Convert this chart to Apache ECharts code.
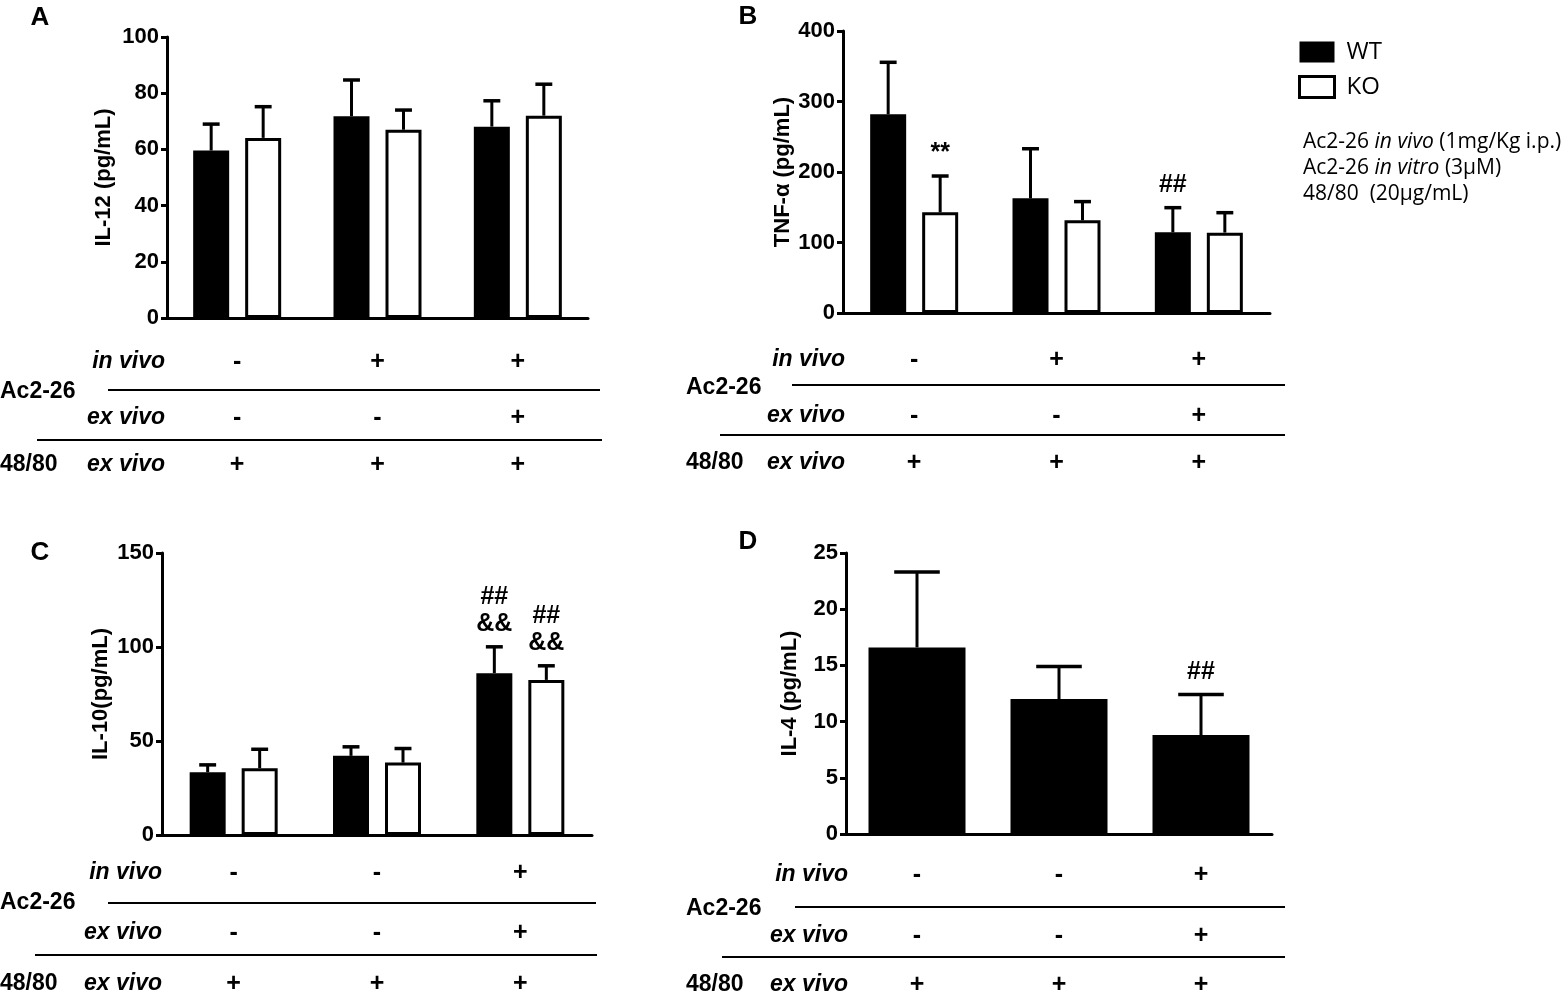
<!DOCTYPE html>
<html>
<head>
<meta charset="utf-8">
<script src="https://cdn.jsdelivr.net/npm/echarts@6/dist/echarts.min.js"></script>
<style>
    html, body { margin: 0; padding: 0; background: #fff; }
    #main { width: 1565px; height: 995px; }
</style>
</head>
<body>
<div id="main"></div>
<script>
// 三组处理
var groups = ['g1', 'g2', 'g3'];

// A: IL-12
var il12WT = [59.6, 71.8, 68.1];
var il12WTErr = [9.4, 12.9, 9.2];
var il12KO = [64.1, 67.0, 72.0];
var il12KOErr = [11.1, 7.0, 11.2];

// B: TNF-α
var tnfWT = [281.8, 162.6, 114.4];
var tnfWTErr = [73.8, 70.4, 35.0];
var tnfKO = [142.8, 131.4, 114.0];
var tnfKOErr = [51.5, 26.6, 28.3];
var tnfWTMark = ['', '', '##'];
var tnfKOMark = ['**', '', ''];

// C: IL-10
var il10WT = [33.4, 42.1, 86.1];
var il10WTErr = [3.9, 4.8, 14.0];
var il10KO = [35.5, 38.5, 82.5];
var il10KOErr = [10.1, 7.5, 7.5];
var il10WTMark = ['', '', '##\n&&'];
var il10KOMark = ['', '', '##\n&&'];

// D: IL-4 (WT only)
var il4WT = [16.6, 12.0, 8.8];
var il4WTErr = [6.7, 2.9, 3.6];
var il4WTMark = ['', '', '##'];

// 表格 +/-
var inVivoAB = ['-', '+', '+'];
var exVivoAB = ['-', '-', '+'];
var inVivoCD = ['-', '-', '+'];
var exVivoCD = ['-', '-', '+'];
var c4880 = ['+', '+', '+'];

var FONT = 'Liberation Sans';

var panels = [{
    letter: 'A', lx: 40, ly: 18,
    grid: { left: 167, top: 37, width: 421, height: 281 },
    yName: 'IL-12 (pg/mL)', nameGap: 52, yMax: 100, yStep: 20,
    bars: [
        { name: 'WT', data: il12WT, err: il12WTErr, mark: null },
        { name: 'KO', data: il12KO, err: il12KOErr, mark: null }
    ],
    inVivo: inVivoAB, exVivo: exVivoAB,
    lay: { labelX: 0, subX: 165, rows: [362, 418, 465], acY: 392, line1: [108, 600, 390], line2: [37, 602, 440] }
}, {
    letter: 'B', lx: 748, ly: 17,
    grid: { left: 843, top: 31, width: 427, height: 282 },
    yName: 'TNF-α (pg/mL)', nameGap: 46, yMax: 400, yStep: 100,
    bars: [
        { name: 'WT', data: tnfWT, err: tnfWTErr, mark: tnfWTMark },
        { name: 'KO', data: tnfKO, err: tnfKOErr, mark: tnfKOMark }
    ],
    inVivo: inVivoAB, exVivo: exVivoAB,
    lay: { labelX: 686, subX: 845, rows: [360, 416, 463], acY: 388, line1: [792, 1285, 385], line2: [720, 1285, 435] }
}, {
    letter: 'C', lx: 40, ly: 553,
    grid: { left: 162, top: 553, width: 430, height: 282 },
    yName: 'IL-10(pg/mL)', nameGap: 50, yMax: 150, yStep: 50,
    bars: [
        { name: 'WT', data: il10WT, err: il10WTErr, mark: il10WTMark },
        { name: 'KO', data: il10KO, err: il10KOErr, mark: il10KOMark }
    ],
    inVivo: inVivoCD, exVivo: exVivoCD,
    lay: { labelX: 0, subX: 162, rows: [873, 933, 984], acY: 903, line1: [108, 596, 903], line2: [35, 597, 955] }
}, {
    letter: 'D', lx: 748, ly: 542,
    grid: { left: 846, top: 553, width: 426, height: 281 },
    yName: 'IL-4 (pg/mL)', nameGap: 45, yMax: 25, yStep: 5,
    bars: [
        { name: 'WT', data: il4WT, err: il4WTErr, mark: il4WTMark }
    ],
    inVivo: inVivoCD, exVivo: exVivoCD,
    lay: { labelX: 686, subX: 848, rows: [875, 936, 985], acY: 909, line1: [795, 1285, 907], line2: [722, 1285, 957] }
}];

// 误差线 + 显著性标记
function errRender(offset, barW, err, mark) {
    return function (params, api) {
        var i = params.dataIndex;
        var v = api.value(1);
        var base = api.coord([api.value(0), v]);
        var top = api.coord([api.value(0), v + err[i]]);
        var x = base[0] + offset;
        var half = barW * 0.235;
        var children = [{
            type: 'line',
            shape: { x1: x, y1: base[1], x2: x, y2: top[1] },
            style: { stroke: '#000', lineWidth: 3 }
        }, {
            type: 'line',
            shape: { x1: x - half, y1: top[1], x2: x + half, y2: top[1] },
            style: { stroke: '#000', lineWidth: 3.5 }
        }];
        if (mark && mark[i]) {
            children.push({
                type: 'text',
                x: x, y: top[1] - 9,
                style: {
                    text: mark[i], align: 'center', verticalAlign: 'bottom',
                    fontSize: 25, fontWeight: 'bold', fontFamily: FONT,
                    lineHeight: 27, fill: '#000'
                }
            });
        }
        return { type: 'group', children: children };
    };
}

var grids = [], xAxes = [], yAxes = [], series = [];
panels.forEach(function (p, idx) {
    grids.push(p.grid);
    xAxes.push({
        type: 'category', gridIndex: idx, data: groups,
        axisLine: { lineStyle: { color: '#000', width: 3 } },
        axisTick: { show: false }, axisLabel: { show: false }
    });
    yAxes.push({
        type: 'value', gridIndex: idx, min: 0, max: p.yMax, interval: p.yStep,
        name: p.yName, nameLocation: 'middle', nameGap: p.nameGap,
        nameTextStyle: { fontSize: 22, fontWeight: 'bold', fontFamily: FONT, color: '#000' },
        axisLine: { show: true, lineStyle: { color: '#000', width: 3 } },
        axisTick: { show: true, length: 6, lineStyle: { color: '#000', width: 3 } },
        axisLabel: { fontSize: 22, fontWeight: 'bold', fontFamily: FONT, color: '#000', margin: 8 },
        splitLine: { show: false }
    });
    var two = p.bars.length === 2;
    var barW = two ? 36 : 97;
    var gap = 16;
    p.bars.forEach(function (b, k) {
        var isKO = b.name === 'KO';
        series.push({
            type: 'bar', name: b.name, xAxisIndex: idx, yAxisIndex: idx,
            data: b.data, barWidth: barW, barGap: (gap / barW * 100) + '%',
            silent: true,
            itemStyle: isKO ? { color: '#fff', borderColor: '#000', borderWidth: 3 } : { color: '#000' }
        });
        var offset = two ? (k === 0 ? -1 : 1) * (barW + gap) / 2 : 0;
        series.push({
            type: 'custom', xAxisIndex: idx, yAxisIndex: idx, silent: true, z: 5,
            renderItem: errRender(offset, barW, b.err, b.mark),
            data: b.data.map(function (v, i) { return [i, v]; })
        });
    });
});

var myChart = echarts.init(document.getElementById('main'));
myChart.setOption({
    animation: false,
    grid: grids,
    xAxis: xAxes,
    yAxis: yAxes,
    legend: {
        orient: 'vertical', left: 1298, top: 40, padding: 0,
        itemWidth: 35, itemHeight: 21, itemGap: 11,
        icon: 'rect',
        textStyle: { fontSize: 24, fontFamily: 'Open Sans', color: '#000', padding: [0, 0, 0, 7] },
        data: [
            { name: 'WT', itemStyle: { color: '#000' } },
            { name: 'KO', itemStyle: { color: '#fff', borderColor: '#000', borderWidth: 3 } }
        ]
    },
    series: series
});

// 面板字母、注释、下方表格
function txt(s, x, y, align, opt) {
    opt = opt || {};
    return {
        type: 'text', x: x, y: y, silent: true,
        style: {
            text: s, align: align || 'center', verticalAlign: 'middle',
            fontSize: opt.size || 21, fontWeight: opt.weight || 'bold',
            fontStyle: opt.italic ? 'italic' : 'normal',
            fontFamily: opt.family || FONT, fill: '#000', rich: opt.rich
        }
    };
}
function hline(a) {
    return { type: 'line', silent: true, shape: { x1: a[0], y1: a[2], x2: a[1], y2: a[2] }, style: { stroke: '#000', lineWidth: 2 } };
}

var els = [];
panels.forEach(function (p, idx) {
    var L = p.lay;
    els.push(txt(p.letter, p.lx, p.ly, 'center', { size: 26 }));
    els.push(txt('Ac2-26', L.labelX, L.acY, 'left', { size: 23 }));
    els.push(txt('48/80', L.labelX, L.rows[2], 'left', { size: 23 }));
    els.push(txt('in vivo', L.subX, L.rows[0], 'right', { size: 23, italic: true }));
    els.push(txt('ex vivo', L.subX, L.rows[1], 'right', { size: 23, italic: true }));
    els.push(txt('ex vivo', L.subX, L.rows[2], 'right', { size: 23, italic: true }));
    els.push(hline(L.line1));
    els.push(hline(L.line2));
    groups.forEach(function (g, i) {
        var x = myChart.convertToPixel({ xAxisIndex: idx }, g);
        els.push(txt(p.inVivo[i], x, L.rows[0], 'center', { size: 25 }));
        els.push(txt(p.exVivo[i], x, L.rows[1], 'center', { size: 25 }));
        els.push(txt(c4880[i], x, L.rows[2], 'center', { size: 25 }));
    });
});

var noteFont = { size: 21, weight: 'normal', family: 'Open Sans', rich: { i: { fontStyle: 'italic', fontSize: 21, fontFamily: 'Open Sans' } } };
els.push(txt('Ac2-26 {i|in vivo} (1mg/Kg i.p.)', 1303, 142, 'left', noteFont));
els.push(txt('Ac2-26 {i|in vitro} (3μM)', 1303, 168, 'left', noteFont));
els.push(txt('48/80  (20μg/mL)', 1303, 194, 'left', noteFont));

myChart.setOption({ graphic: { elements: els } });
</script>
</body>
</html>
